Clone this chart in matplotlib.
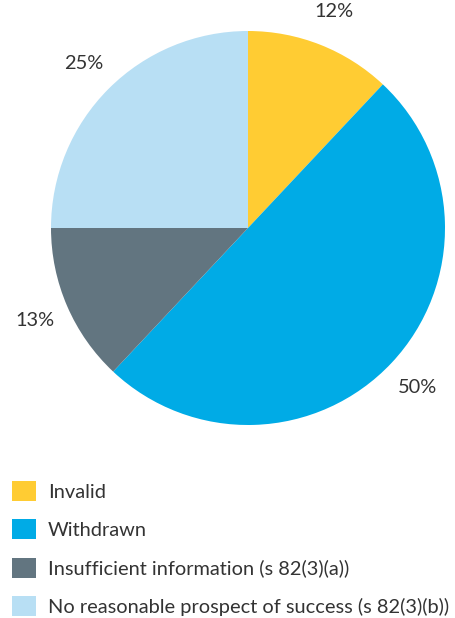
import matplotlib.pyplot as plt
from matplotlib import font_manager
from matplotlib.patches import Patch

categories = ['Invalid', 'Withdrawn', 'Insufficient information (s 82(3)(a))',
              'No reasonable prospect of success (s 82(3)(b))']
values = [12, 50, 13, 25]
pct_labels = ['12%', '50%', '13%', '25%']
colors = ['#FFCC33', '#00ABE6', '#627580', '#B8DFF4']

# pick the upright regular Lato file
lato = [f for f in font_manager.fontManager.ttflist
        if f.name == 'Lato' and f.style == 'normal' and f.weight in (400, 'normal', 'regular')]
if lato:
    fp = font_manager.FontProperties(fname=lato[0].fname, size=14.4)
else:
    fp = font_manager.FontProperties(family='Lato', style='normal', weight='normal', size=14.4)

fig = plt.figure(figsize=(4.55, 6.18), dpi=100)
ax = fig.add_axes([50 / 455, 1 - 425 / 618, 396 / 455, 394 / 618])

wedges, texts = ax.pie(values, labels=pct_labels, colors=colors, startangle=90,
                       counterclock=False, radius=1, labeldistance=1.18,
                       wedgeprops=dict(linewidth=0))
for t in texts:
    t.set_fontproperties(fp)
    t.set_color('#333333')
    t.set_horizontalalignment('center')
    t.set_verticalalignment('center')
ax.set_xlim(-1, 1)
ax.set_ylim(-1, 1)
ax.set_aspect('equal')

handles = [Patch(facecolor=c, edgecolor='none') for c in colors]
fig.legend(handles, categories, loc='upper left', bbox_to_anchor=(4 / 455, 1 - 473 / 618),
           frameon=False, prop=fp, handlelength=1.2, handleheight=1.15,
           handletextpad=0.6, labelspacing=0.93, labelcolor='#333333', borderaxespad=0)

fig.savefig('out.png', dpi=100)
